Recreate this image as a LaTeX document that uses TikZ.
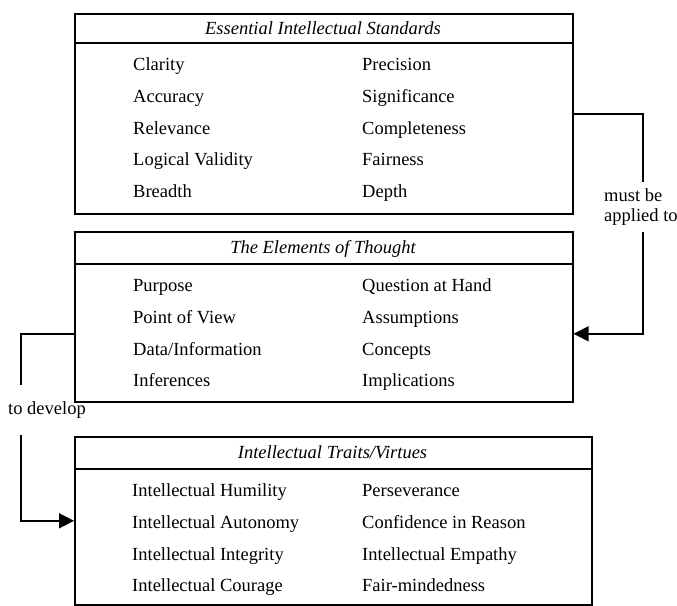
\documentclass[tikz,border=0pt]{standalone}
\usepackage{fontspec}
\setmainfont{Liberation Serif}
\usetikzlibrary{arrows.meta}

\begin{document}
\begin{tikzpicture}[x=1pt,y=-1pt]
	\tikzstyle{box}=[rectangle,draw,line width=1.6pt,inner sep=0pt,anchor=north west]
	\tikzstyle{head}=[anchor=base,inner sep=0pt,font=\fontsize{18.5}{20}\selectfont\itshape]
	\tikzstyle{item}=[anchor=base west,inner sep=0pt,font=\fontsize{18.5}{20}\selectfont]
	\tikzstyle{note}=[anchor=west,align=left,inner sep=0pt,minimum height=50pt,font=\fontsize{18.5}{19.5}\selectfont]
	\tikzstyle{rule}=[line width=1.6pt]
	\tikzstyle{flow}=[line width=1.6pt,-{Triangle[length=15pt,width=15pt]}]
	\useasboundingbox (0,0) rectangle (677,605);
	% the three boxes
	\node (std)   at (74,13)  [box,minimum width=498pt,minimum height=200pt] {};
	\node (elem)  at (74,231) [box,minimum width=498pt,minimum height=170pt] {};
	\node (trait) at (74,436) [box,minimum width=517pt,minimum height=168pt] {};
	\draw [rule] (std.west |- 0,43)    -- (std.east |- 0,43);
	\draw [rule] (elem.west |- 0,264)  -- (elem.east |- 0,264);
	\draw [rule] (trait.west |- 0,469) -- (trait.east |- 0,469);
	\node (stdhead)   at (323,34)    [head] {Essential Intellectual Standards};
	\node (elemhead)  at (323,253)   [head] {The Elements of Thought};
	\node (traithead) at (332.5,458) [head] {Intellectual Traits/Virtues};
	% standards
	\node (clarity)      at (133,70)  [item] {Clarity};
	\node (accuracy)     at (133,102) [item] {Accuracy};
	\node (relevance)    at (133,134) [item] {Relevance};
	\node (logic)        at (133,165) [item] {Logical Validity};
	\node (breadth)      at (133,197) [item] {Breadth};
	\node (precision)    at (362,70)  [item] {Precision};
	\node (significance) at (362,102) [item] {Significance};
	\node (completeness) at (362,134) [item] {Completeness};
	\node (fairness)     at (362,165) [item] {Fairness};
	\node (depth)        at (362,197) [item] {Depth};
	% elements
	\node (purpose)      at (133,291) [item] {Purpose};
	\node (pov)          at (133,323) [item] {Point of View};
	\node (data)         at (133,355) [item] {Data/Information};
	\node (inferences)   at (133,386) [item] {Inferences};
	\node (question)     at (362,291) [item] {Question at Hand};
	\node (assumptions)  at (362,323) [item] {Assumptions};
	\node (concepts)     at (362,355) [item] {Concepts};
	\node (implications) at (362,386) [item] {Implications};
	% traits
	\node (humility)     at (132,496) [item] {Intellectual Humility};
	\node (autonomy)     at (132,528) [item] {Intellectual Autonomy};
	\node (integrity)    at (132,560) [item] {Intellectual Integrity};
	\node (courage)      at (132,591) [item] {Intellectual Courage};
	\node (persever)     at (362,496) [item] {Perseverance};
	\node (confidence)   at (362,528) [item] {Confidence in Reason};
	\node (empathy)      at (362,560) [item] {Intellectual Empathy};
	\node (fairmind)     at (362,591) [item] {Fair-mindedness};
	% connectors
	\node (apply)   at (604,207) [note] {must be\\applied to};
	\node (develop) at (8,410)   [note] {to develop};
	\draw [rule] (std.east) -| ([xshift=39pt]apply.north west);
	\draw [flow] ([xshift=39pt]apply.south west) |- ([yshift=-17pt]elem.east);
	\draw [rule] ([yshift=-17pt]elem.west) -| ([xshift=13pt]develop.north west);
	\draw [flow] ([xshift=13pt]develop.south west) |- (trait.west);
\end{tikzpicture}
\end{document}
